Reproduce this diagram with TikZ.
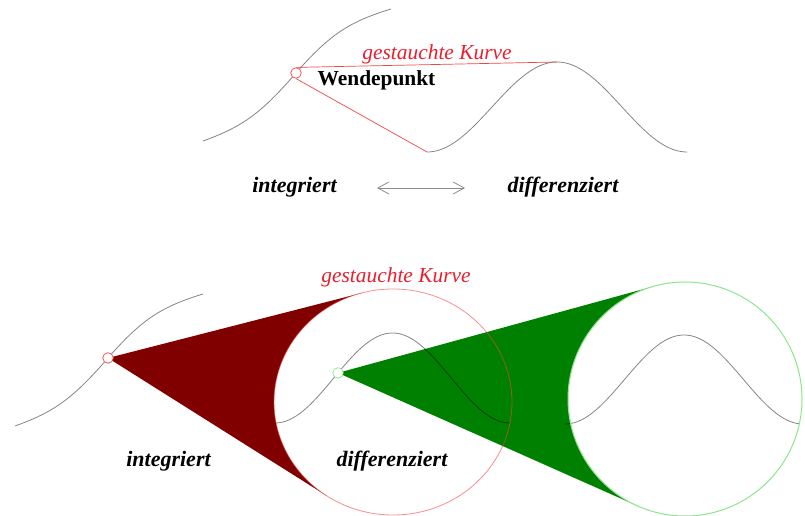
\documentclass[tikz,border=0pt]{standalone}
\usepackage{fontspec}
\setmainfont{Liberation Serif}
\usetikzlibrary{arrows.meta}
\definecolor{maroonfill}{RGB}{128,0,0}
\definecolor{greenfill}{RGB}{0,128,0}
\definecolor{lightgreenline}{RGB}{140,230,140}
\definecolor{redline}{RGB}{240,70,70}
\definecolor{redtext}{RGB}{235,30,45}
\newcommand\scurvepath{(-93,-68) .. controls (-53,-53.6) and (-35,-40.25) .. (0,0) .. controls (35,40.25) and (55,51.6) .. (95,64)}
\begin{document}
\begin{tikzpicture}[x=1pt,y=1pt,
  curve/.style={black, opacity=0.48, line width=0.8pt, line join=round},
  redthin/.style={redline, line width=0.7pt},
  txt/.style={inner sep=0, anchor=base},
  redlbl/.style={txt, text=redtext, font=\fontsize{21.4}{24}\selectfont\itshape},
  bilbl/.style={txt, font=\fontsize{22}{24}\selectfont\bfseries\itshape},
  wp/.style={circle, inner sep=0, minimum size=10.5pt, fill=white, line width=0.7pt}]
\useasboundingbox (0,0) rectangle (805,516);

% ---------- top part ----------
\begin{scope}[shift={(296,443)}]
  \draw[curve] \scurvepath;
\end{scope}
\begin{scope}[shift={(557,409)}]
  \draw[curve] plot[domain=-180:180, samples=121] ({\x/180*130},{45*cos(\x)});
\end{scope}
\coordinate (peak) at (557,454);
\coordinate (trough) at (427,364);
\node[wp, draw=redline] (wpt) at (296,443) {};
\draw[redthin] (wpt.north) -- (peak);
\draw[redthin] (wpt.south) -- (trough);
\node[redlbl] (gk1) at (437,456) {gestauchte Kurve};
\node[txt, font=\fontsize{21.4}{24}\selectfont\bfseries] (wl) at (376.5,430) {Wendepunkt};

\node[bilbl] (int1) at (294.5,323) {integriert};
\node[bilbl] (dif1) at (563,323) {differenziert};
\coordinate (al) at (377,328);
\coordinate (ar) at (465,328);
\draw[black!45, line width=0.8pt, {Straight Barb[length=11pt,width=12pt]}-{Straight Barb[length=11pt,width=12pt]}] (al) -- (ar);

% ---------- bottom part ----------
% red cone
\fill[maroonfill] (108,158) -- (362.4,223.2) arc[start angle=104.89, end angle=236.23, x radius=119, y radius=113] -- cycle;
% green cone
\fill[greenfill] (338,143.1) -- (654.1,229.8) arc[start angle=105.33, end angle=246.03, radius=117] -- cycle;

% left S curve
\begin{scope}[shift={(108,158)}]
  \draw[curve] \scurvepath;
\end{scope}
% inner curve of red circle
\begin{scope}[shift={(392.5,138)}]
  \draw[curve] plot[domain=-180:180, samples=121] ({\x/180*117.5},{45*cos(\x)});
\end{scope}
% inner curve of green circle
\begin{scope}[shift={(684,136.5)}]
  \draw[curve] plot[domain=-180:175, samples=121] ({\x/180*119},{44.5*cos(\x)});
\end{scope}

% circles
\draw[redline, opacity=0.6, line width=0.8pt] (393,114) ellipse [x radius=119, y radius=113];
\draw[lightgreenline, line width=1pt] (685,117) circle [radius=117];

\node[wp, draw=redline] (p1) at (108,158) {};
\node[wp, draw=lightgreenline] (p2) at (338,143.1) {};

\node[redlbl] (gk2) at (396,233) {gestauchte Kurve};
\node[bilbl] (int2) at (168.5,49) {integriert};
\node[bilbl] (dif2) at (392,49) {differenziert};
\end{tikzpicture}
\end{document}
